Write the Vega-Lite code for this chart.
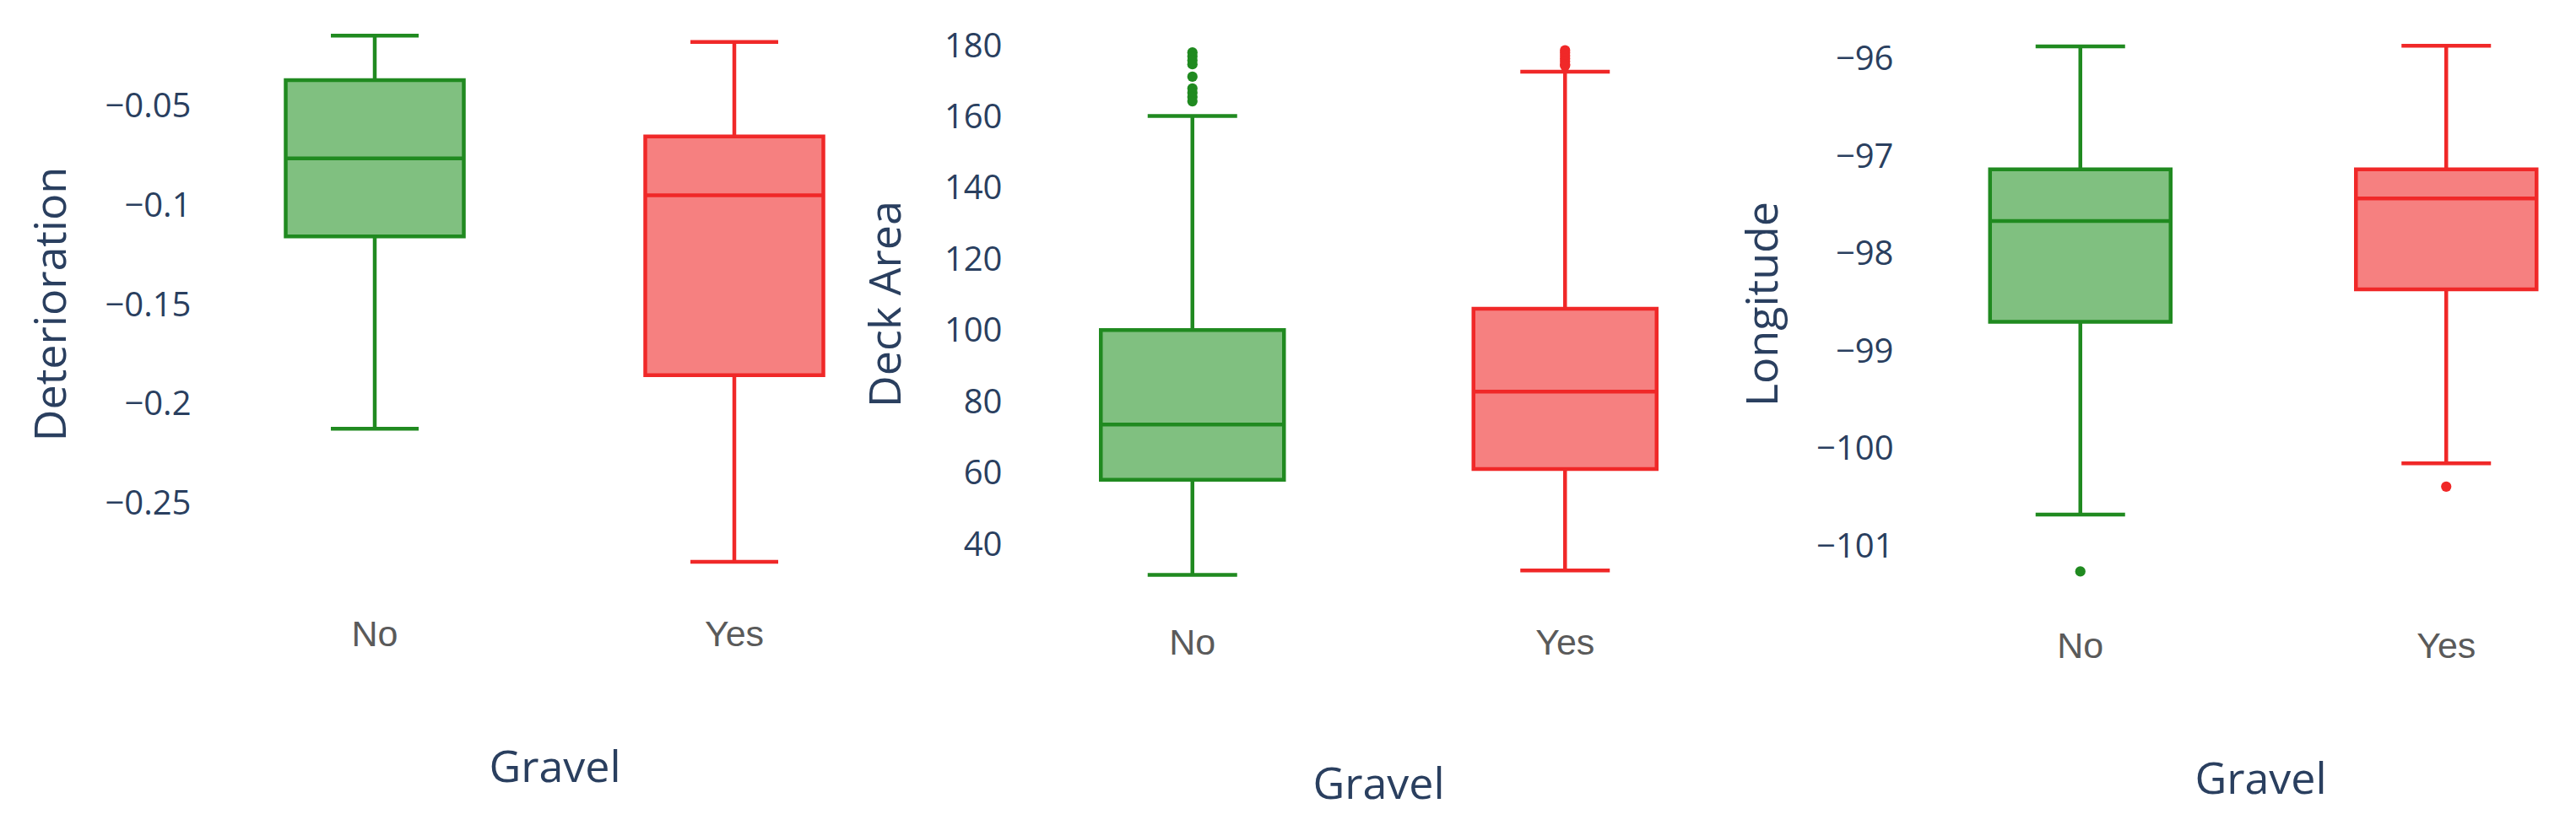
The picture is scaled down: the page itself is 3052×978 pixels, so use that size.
{
  "$schema": "https://vega.github.io/schema/vega-lite/v6.json",
  "background": "white",
  "padding": {"left": 35, "top": 20, "right": 0, "bottom": 8},
  "spacing": 109,
  "bounds": "flush",
  "config": {
    "view": {"stroke": null},
    "axis": {"grid": false, "domain": false, "ticks": false, "titleFont": "Open Sans", "titleFontWeight": "normal", "titleColor": "#2a3f5f", "titleFontSize": 52},
    "axisY": {"labelFont": "Open Sans", "labelFontSize": 40, "labelColor": "#2a3f5f", "labelPadding": 5},
    "axisX": {"labelFont": "Liberation Sans", "labelFontSize": 43, "labelColor": "#5a5a5a", "labelAngle": 0}
  },
  "datasets": {
    "stats": [
      {"panel": "Deterioration", "Gravel": "No", "lo": -0.2121, "q1": -0.1152, "median": -0.076, "q3": -0.0366, "hi": -0.0142},
      {"panel": "Deterioration", "Gravel": "Yes", "lo": -0.2791, "q1": -0.1851, "median": -0.0945, "q3": -0.0649, "hi": -0.0174},
      {"panel": "Deck Area", "Gravel": "No", "lo": 31.7, "q1": 58.4, "median": 73.9, "q3": 100.4, "hi": 160.5},
      {"panel": "Deck Area", "Gravel": "Yes", "lo": 32.9, "q1": 61.4, "median": 83.1, "q3": 106.4, "hi": 172.9},
      {"panel": "Longitude", "Gravel": "No", "lo": -100.666, "q1": -98.69, "median": -97.656, "q3": -97.127, "hi": -95.865},
      {"panel": "Longitude", "Gravel": "Yes", "lo": -100.142, "q1": -98.357, "median": -97.424, "q3": -97.127, "hi": -95.86}
    ],
    "outliers": [
      {"panel": "Deck Area", "Gravel": "No", "value": 178.3},
      {"panel": "Deck Area", "Gravel": "No", "value": 177.2},
      {"panel": "Deck Area", "Gravel": "No", "value": 176.1},
      {"panel": "Deck Area", "Gravel": "No", "value": 175.0},
      {"panel": "Deck Area", "Gravel": "No", "value": 171.5},
      {"panel": "Deck Area", "Gravel": "No", "value": 168.2},
      {"panel": "Deck Area", "Gravel": "No", "value": 167.0},
      {"panel": "Deck Area", "Gravel": "No", "value": 165.8},
      {"panel": "Deck Area", "Gravel": "No", "value": 164.6},
      {"panel": "Deck Area", "Gravel": "Yes", "value": 178.9},
      {"panel": "Deck Area", "Gravel": "Yes", "value": 178.2},
      {"panel": "Deck Area", "Gravel": "Yes", "value": 177.4},
      {"panel": "Deck Area", "Gravel": "Yes", "value": 176.6},
      {"panel": "Deck Area", "Gravel": "Yes", "value": 175.8},
      {"panel": "Deck Area", "Gravel": "Yes", "value": 175.0},
      {"panel": "Deck Area", "Gravel": "Yes", "value": 174.6},
      {"panel": "Longitude", "Gravel": "No", "value": -101.25},
      {"panel": "Longitude", "Gravel": "Yes", "value": -100.38}
    ]
  },
  "hconcat": [
    {
      "width": 852, "height": 680,
      "encoding": {
        "x": {"field": "Gravel", "type": "nominal", "scale": {"paddingInner": 0, "paddingOuter": 0}, "axis": {"title": "Gravel", "labelPadding": 31, "titlePadding": 111}}
      },
      "layer": [
        {"data": {"name": "stats"}, "transform": [{"filter": "datum.panel === 'Deterioration'"}], "mark": {"type": "rule", "strokeWidth": 4.5},
         "encoding": {"y": {"field": "lo", "type": "quantitative", "title": "Deterioration", "scale": {"domain": [-0.2935, -0.00473], "nice": false, "zero": false}, "axis": {"values": [-0.05, -0.1, -0.15, -0.2, -0.25], "format": ".2~f", "titlePadding": 36}}, "y2": {"field": "hi"},
                      "color": {"field": "Gravel", "type": "nominal", "scale": {"domain": ["No", "Yes"], "range": ["#208a20", "#f02828"]}, "legend": null}}},
        {"data": {"name": "stats"}, "transform": [{"filter": "datum.panel === 'Deterioration'"}], "mark": {"type": "bar", "size": 211, "strokeWidth": 4.5},
         "encoding": {"y": {"field": "q1", "type": "quantitative", "title": "Deterioration"}, "y2": {"field": "q3"},
                      "fill": {"field": "Gravel", "type": "nominal", "scale": {"domain": ["No", "Yes"], "range": ["#80c080", "#f68080"]}, "legend": null},
                      "stroke": {"field": "Gravel", "type": "nominal", "scale": {"domain": ["No", "Yes"], "range": ["#208a20", "#f02828"]}, "legend": null}}},
        {"data": {"name": "stats"}, "transform": [{"filter": "datum.panel === 'Deterioration'"}], "mark": {"type": "tick", "size": 211, "thickness": 4.5, "opacity": 1},
         "encoding": {"y": {"field": "median", "type": "quantitative", "title": "Deterioration"}, "color": {"field": "Gravel", "type": "nominal", "legend": null}}},
        {"data": {"name": "stats"}, "transform": [{"filter": "datum.panel === 'Deterioration'"}], "mark": {"type": "tick", "size": 104, "thickness": 4.5, "opacity": 1},
         "encoding": {"y": {"field": "lo", "type": "quantitative", "title": "Deterioration"}, "color": {"field": "Gravel", "type": "nominal", "legend": null}}},
        {"data": {"name": "stats"}, "transform": [{"filter": "datum.panel === 'Deterioration'"}], "mark": {"type": "tick", "size": 104, "thickness": 4.5, "opacity": 1},
         "encoding": {"y": {"field": "hi", "type": "quantitative", "title": "Deterioration"}, "color": {"field": "Gravel", "type": "nominal", "legend": null}}}
      ]
    },
    {
      "width": 947, "height": 680,
      "encoding": {
        "x": {"field": "Gravel", "type": "nominal", "scale": {"paddingInner": 0, "paddingOuter": 0, "range": [0, 883]}, "axis": {"title": "Gravel", "labelPadding": 41, "titlePadding": 121, "titleX": 441}}
      },
      "layer": [
        {"data": {"name": "stats"}, "transform": [{"filter": "datum.panel === 'Deck Area'"}], "mark": {"type": "rule", "strokeWidth": 4.5},
         "encoding": {"y": {"field": "lo", "type": "quantitative", "title": "Deck Area", "scale": {"domain": [27.3, 188.29], "nice": false, "zero": false}, "axis": {"values": [40, 60, 80, 100, 120, 140, 160, 180], "titlePadding": 41}}, "y2": {"field": "hi"},
                      "color": {"field": "Gravel", "type": "nominal", "legend": null}}},
        {"data": {"name": "stats"}, "transform": [{"filter": "datum.panel === 'Deck Area'"}], "mark": {"type": "bar", "size": 217, "strokeWidth": 4.5},
         "encoding": {"y": {"field": "q1", "type": "quantitative", "title": "Deck Area"}, "y2": {"field": "q3"},
                      "fill": {"field": "Gravel", "type": "nominal", "legend": null},
                      "stroke": {"field": "Gravel", "type": "nominal", "legend": null}}},
        {"data": {"name": "stats"}, "transform": [{"filter": "datum.panel === 'Deck Area'"}], "mark": {"type": "tick", "size": 217, "thickness": 4.5, "opacity": 1},
         "encoding": {"y": {"field": "median", "type": "quantitative", "title": "Deck Area"}, "color": {"field": "Gravel", "type": "nominal", "legend": null}}},
        {"data": {"name": "stats"}, "transform": [{"filter": "datum.panel === 'Deck Area'"}], "mark": {"type": "tick", "size": 106, "thickness": 4.5, "opacity": 1},
         "encoding": {"y": {"field": "lo", "type": "quantitative", "title": "Deck Area"}, "color": {"field": "Gravel", "type": "nominal", "legend": null}}},
        {"data": {"name": "stats"}, "transform": [{"filter": "datum.panel === 'Deck Area'"}], "mark": {"type": "tick", "size": 106, "thickness": 4.5, "opacity": 1},
         "encoding": {"y": {"field": "hi", "type": "quantitative", "title": "Deck Area"}, "color": {"field": "Gravel", "type": "nominal", "legend": null}}},
        {"data": {"name": "outliers"}, "transform": [{"filter": "datum.panel === 'Deck Area'"}], "mark": {"type": "point", "filled": true, "size": 150, "opacity": 1},
         "encoding": {"y": {"field": "value", "type": "quantitative", "title": "Deck Area"}, "color": {"field": "Gravel", "type": "nominal", "legend": null}}}
      ]
    },
    {
      "width": 797, "height": 680,
      "encoding": {
        "x": {"field": "Gravel", "type": "nominal", "scale": {"paddingInner": 0, "paddingOuter": 0, "range": [0, 867]}, "axis": {"title": "Gravel", "labelPadding": 45, "titlePadding": 111, "titleX": 430}}
      },
      "layer": [
        {"data": {"name": "stats"}, "transform": [{"filter": "datum.panel === 'Longitude'"}], "mark": {"type": "rule", "strokeWidth": 4.5},
         "encoding": {"y": {"field": "lo", "type": "quantitative", "title": "Longitude", "scale": {"domain": [-101.4455, -95.563], "nice": false, "zero": false}, "axis": {"values": [-96, -97, -98, -99, -100, -101], "format": "d", "titlePadding": 35}}, "y2": {"field": "hi"},
                      "color": {"field": "Gravel", "type": "nominal", "legend": null}}},
        {"data": {"name": "stats"}, "transform": [{"filter": "datum.panel === 'Longitude'"}], "mark": {"type": "bar", "size": 214, "strokeWidth": 4.5},
         "encoding": {"y": {"field": "q1", "type": "quantitative", "title": "Longitude"}, "y2": {"field": "q3"},
                      "fill": {"field": "Gravel", "type": "nominal", "legend": null},
                      "stroke": {"field": "Gravel", "type": "nominal", "legend": null}}},
        {"data": {"name": "stats"}, "transform": [{"filter": "datum.panel === 'Longitude'"}], "mark": {"type": "tick", "size": 214, "thickness": 4.5, "opacity": 1},
         "encoding": {"y": {"field": "median", "type": "quantitative", "title": "Longitude"}, "color": {"field": "Gravel", "type": "nominal", "legend": null}}},
        {"data": {"name": "stats"}, "transform": [{"filter": "datum.panel === 'Longitude'"}], "mark": {"type": "tick", "size": 106, "thickness": 4.5, "opacity": 1},
         "encoding": {"y": {"field": "lo", "type": "quantitative", "title": "Longitude"}, "color": {"field": "Gravel", "type": "nominal", "legend": null}}},
        {"data": {"name": "stats"}, "transform": [{"filter": "datum.panel === 'Longitude'"}], "mark": {"type": "tick", "size": 106, "thickness": 4.5, "opacity": 1},
         "encoding": {"y": {"field": "hi", "type": "quantitative", "title": "Longitude"}, "color": {"field": "Gravel", "type": "nominal", "legend": null}}},
        {"data": {"name": "outliers"}, "transform": [{"filter": "datum.panel === 'Longitude'"}], "mark": {"type": "point", "filled": true, "size": 150, "opacity": 1},
         "encoding": {"y": {"field": "value", "type": "quantitative", "title": "Longitude"}, "color": {"field": "Gravel", "type": "nominal", "legend": null}}}
      ]
    }
  ]
}
